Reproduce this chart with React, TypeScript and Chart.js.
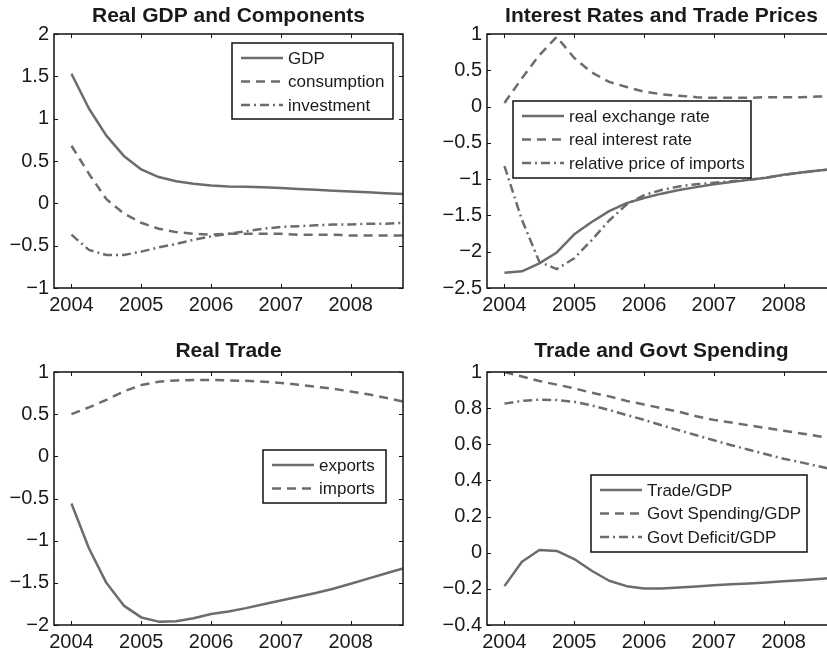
import React, { useEffect, useRef } from 'react';
import { Chart, registerables } from 'chart.js';

Chart.register(...registerables);

// ---------- data ----------
const quarters = [
  2004, 2004.25, 2004.5, 2004.75, 2005, 2005.25, 2005.5, 2005.75, 2006, 2006.25,
  2006.5, 2006.75, 2007, 2007.25, 2007.5, 2007.75, 2008, 2008.25, 2008.5, 2008.75,
];
const yearTicks = [2004, 2005, 2006, 2007, 2008];

// Real GDP and Components
const gdp = [1.53, 1.12, 0.8, 0.56, 0.4, 0.31, 0.26, 0.23, 0.21, 0.2, 0.195, 0.19, 0.18, 0.17, 0.16, 0.15, 0.14, 0.13, 0.12, 0.11];
const consumption = [0.68, 0.35, 0.05, -0.12, -0.23, -0.3, -0.34, -0.36, -0.37, -0.36, -0.36, -0.36, -0.36, -0.37, -0.37, -0.37, -0.38, -0.38, -0.38, -0.38];
const investment = [-0.37, -0.55, -0.61, -0.61, -0.57, -0.52, -0.48, -0.43, -0.39, -0.36, -0.33, -0.3, -0.28, -0.27, -0.26, -0.25, -0.25, -0.24, -0.24, -0.23];
const gdpTicks = [-1, -0.5, 0, 0.5, 1, 1.5, 2];

// Interest Rates and Trade Prices
const exchangeRate = [-2.29, -2.27, -2.16, -2.01, -1.76, -1.59, -1.44, -1.33, -1.26, -1.2, -1.15, -1.11, -1.07, -1.04, -1.01, -0.98, -0.94, -0.91, -0.88, -0.86];
const interestRate = [0.05, 0.39, 0.71, 0.96, 0.67, 0.47, 0.34, 0.27, 0.205, 0.17, 0.15, 0.13, 0.12, 0.12, 0.12, 0.13, 0.13, 0.13, 0.14, 0.14];
const importPrice = [-0.82, -1.56, -2.14, -2.24, -2.09, -1.84, -1.57, -1.35, -1.22, -1.15, -1.1, -1.07, -1.05, -1.03, -1.01, -0.98, -0.94, -0.91, -0.88, -0.86];
const ratesTicks = [-2.5, -2, -1.5, -1, -0.5, 0, 0.5, 1];

// Real Trade
const exportsData = [-0.56, -1.09, -1.5, -1.77, -1.91, -1.96, -1.955, -1.92, -1.87, -1.84, -1.8, -1.755, -1.71, -1.665, -1.62, -1.57, -1.51, -1.45, -1.39, -1.33];
const importsData = [0.5, 0.58, 0.67, 0.77, 0.845, 0.885, 0.9, 0.905, 0.905, 0.9, 0.895, 0.885, 0.87, 0.85, 0.825, 0.8, 0.77, 0.735, 0.695, 0.65];
const tradeTicks = [-2, -1.5, -1, -0.5, 0, 0.5, 1];

// Trade and Govt Spending
const tradeGdp = [-0.185, -0.05, 0.015, 0.01, -0.035, -0.1, -0.155, -0.185, -0.198, -0.198, -0.193, -0.187, -0.18, -0.175, -0.17, -0.165, -0.158, -0.152, -0.145, -0.138];
const govSpending = [1.0, 0.975, 0.95, 0.93, 0.91, 0.885, 0.865, 0.84, 0.82, 0.8, 0.78, 0.755, 0.735, 0.72, 0.705, 0.69, 0.675, 0.66, 0.645, 0.625];
const govDeficit = [0.825, 0.84, 0.847, 0.845, 0.835, 0.815, 0.79, 0.762, 0.735, 0.705, 0.678, 0.65, 0.622, 0.595, 0.57, 0.545, 0.52, 0.5, 0.478, 0.458];
const govTicks = [-0.4, -0.2, 0, 0.2, 0.4, 0.6, 0.8, 1];

// ---------- styles ----------
const LINE_COLOR = '#6c6c6c';
const SOLID: number[] = [];
const DASH = [9, 6];
const DASHDOT = [9, 4, 2, 4];
const FONT = '"Liberation Sans", Arial, Helvetica, sans-serif';

type Series = { label: string; data: number[]; dash: number[] };
type Panel = {
  title: string;
  titleGap: number;
  canvas: { left: number; top: number; width: number; height: number };
  area: { left: number; top: number; right: number; bottom: number };
  yMin: number;
  yMax: number;
  yTicks: number[];
  series: Series[];
  legend: { x: number; y: number; w: number; h: number };
};

const panels: Panel[] = [
  {
    title: 'Real GDP and Components',
    titleGap: 12,
    canvas: { left: 0, top: 0, width: 413, height: 320 },
    area: { left: 54, top: 34, right: 403, bottom: 288 },
    yMin: -1, yMax: 2, yTicks: gdpTicks,
    series: [
      { label: 'GDP', data: gdp, dash: SOLID },
      { label: 'consumption', data: consumption, dash: DASH },
      { label: 'investment', data: investment, dash: DASHDOT },
    ],
    legend: { x: 232, y: 43, w: 161, h: 76 },
  },
  {
    title: 'Interest Rates and Trade Prices',
    titleGap: 12,
    canvas: { left: 413, top: 0, width: 437, height: 320 },
    area: { left: 487, top: 34, right: 836, bottom: 288 },
    yMin: -2.5, yMax: 1, yTicks: ratesTicks,
    series: [
      { label: 'real exchange rate', data: exchangeRate, dash: SOLID },
      { label: 'real interest rate', data: interestRate, dash: DASH },
      { label: 'relative price of imports', data: importPrice, dash: DASHDOT },
    ],
    legend: { x: 513, y: 101, w: 238, h: 77 },
  },
  {
    title: 'Real Trade',
    titleGap: 15,
    canvas: { left: 0, top: 320, width: 413, height: 331 },
    area: { left: 54, top: 372, right: 403, bottom: 625 },
    yMin: -2, yMax: 1, yTicks: tradeTicks,
    series: [
      { label: 'exports', data: exportsData, dash: SOLID },
      { label: 'imports', data: importsData, dash: DASH },
    ],
    legend: { x: 263, y: 450, w: 123, h: 53 },
  },
  {
    title: 'Trade and Govt Spending',
    titleGap: 15,
    canvas: { left: 413, top: 320, width: 437, height: 331 },
    area: { left: 487, top: 372, right: 836, bottom: 625 },
    yMin: -0.4, yMax: 1, yTicks: govTicks,
    series: [
      { label: 'Trade/GDP', data: tradeGdp, dash: SOLID },
      { label: 'Govt Spending/GDP', data: govSpending, dash: DASH },
      { label: 'Govt Deficit/GDP', data: govDeficit, dash: DASHDOT },
    ],
    legend: { x: 591, y: 475, w: 216, h: 77 },
  },
];

const fmt = (v: number) => {
  const s = String(Math.round(v * 100) / 100);
  return v < 0 ? '\u2212' + s.slice(1) : s;
};

function makeChart(canvas: HTMLCanvasElement, p: Panel) {
  const c = p.canvas;
  const a = p.area;
  const yAxisWidth = a.left - c.left;
  const xAxisHeight = c.top + c.height - a.bottom;

  const framePlugin = {
    id: 'frame' + p.title.replace(/\W/g, ''),
    afterDatasetsDraw(chart: any) {
      const ctx = chart.ctx as CanvasRenderingContext2D;
      const area = chart.chartArea;
      const xs = chart.scales.x;
      const ys = chart.scales.y;
      ctx.save();
      // box
      ctx.strokeStyle = '#111';
      ctx.lineWidth = 1.5;
      ctx.setLineDash([]);
      ctx.strokeRect(area.left, area.top, area.right - area.left, area.bottom - area.top);
      // inward ticks
      ctx.lineWidth = 1;
      ctx.beginPath();
      yearTicks.forEach((v) => {
        const px = Math.round(xs.getPixelForValue(v)) + 0.5;
        ctx.moveTo(px, area.bottom);
        ctx.lineTo(px, area.bottom - 4);
        ctx.moveTo(px, area.top);
        ctx.lineTo(px, area.top + 4);
      });
      p.yTicks.forEach((v) => {
        const py = Math.round(ys.getPixelForValue(v)) + 0.5;
        ctx.moveTo(area.left, py);
        ctx.lineTo(area.left + 4, py);
        ctx.moveTo(area.right, py);
        ctx.lineTo(area.right - 4, py);
      });
      ctx.stroke();
      // title
      ctx.fillStyle = '#1a1a1a';
      ctx.font = 'bold 21px ' + FONT;
      ctx.textAlign = 'center';
      ctx.textBaseline = 'alphabetic';
      ctx.fillText(p.title, (area.left + area.right) / 2, area.top - p.titleGap);
      // legend
      const lx = p.legend.x - c.left;
      const ly = p.legend.y - c.top;
      ctx.fillStyle = '#fff';
      ctx.fillRect(lx, ly, p.legend.w, p.legend.h);
      ctx.strokeStyle = '#111';
      ctx.lineWidth = 1.5;
      ctx.strokeRect(lx, ly, p.legend.w, p.legend.h);
      ctx.font = '17px ' + FONT;
      ctx.textAlign = 'left';
      ctx.textBaseline = 'middle';
      p.series.forEach((s, i) => {
        const ry = ly + 15 + i * 23.5;
        ctx.strokeStyle = LINE_COLOR;
        ctx.lineWidth = 2.5;
        ctx.setLineDash(s.dash);
        ctx.beginPath();
        ctx.moveTo(lx + 9, ry);
        ctx.lineTo(lx + 51, ry);
        ctx.stroke();
        ctx.setLineDash([]);
        ctx.fillStyle = '#1a1a1a';
        ctx.fillText(s.label, lx + 56, ry + 1);
      });
      ctx.restore();
    },
  };

  return new Chart(canvas, {
    type: 'line',
    data: {
      datasets: p.series.map((s) => ({
        label: s.label,
        data: quarters.map((q, i) => ({ x: q, y: s.data[i] })),
        borderColor: LINE_COLOR,
        backgroundColor: LINE_COLOR,
        borderWidth: 2.5,
        borderDash: s.dash,
        pointRadius: 0,
        tension: 0,
        fill: false,
        borderJoinStyle: 'round' as const,
      })),
    },
    options: {
      responsive: false,
      animation: false,
      events: [],
      layout: {
        padding: { top: a.top - c.top, right: c.left + c.width - a.right, bottom: 0, left: 0 },
      },
      plugins: {
        legend: { display: false },
        tooltip: { enabled: false },
        title: { display: false },
      },
      scales: {
        x: {
          type: 'linear',
          min: 2003.75,
          max: 2008.75,
          grid: { display: false, drawTicks: false },
          border: { display: false },
          afterBuildTicks: (axis: any) => {
            axis.ticks = yearTicks.map((v) => ({ value: v }));
          },
          afterFit: (axis: any) => {
            axis.height = xAxisHeight;
          },
          ticks: {
            autoSkip: false,
            maxRotation: 0,
            padding: 5,
            color: '#1a1a1a',
            font: { family: FONT, size: 20 },
            callback: (v: any) => String(v),
          },
        },
        y: {
          type: 'linear',
          min: p.yMin,
          max: p.yMax,
          grid: { display: false, drawTicks: false },
          border: { display: false },
          afterBuildTicks: (axis: any) => {
            axis.ticks = p.yTicks.map((v) => ({ value: v }));
          },
          afterFit: (axis: any) => {
            axis.width = yAxisWidth;
          },
          ticks: {
            autoSkip: false,
            padding: 5,
            color: '#1a1a1a',
            font: { family: FONT, size: 20 },
            callback: (v: any) => fmt(Number(v)),
          },
        },
      },
    } as any,
    plugins: [framePlugin],
  });
}

function PanelChart({ panel }: { panel: Panel }) {
  const ref = useRef<HTMLCanvasElement | null>(null);
  useEffect(() => {
    if (!ref.current) return;
    const chart = makeChart(ref.current, panel);
    return () => chart.destroy();
  }, [panel]);
  const c = panel.canvas;
  return (
    <canvas
      ref={ref}
      width={c.width}
      height={c.height}
      style={{ position: 'absolute', left: c.left, top: c.top, width: c.width, height: c.height }}
    />
  );
}

export default function App() {
  return (
    <div
      style={{
        position: 'fixed',
        left: 0,
        top: 0,
        width: 827,
        height: 651,
        overflow: 'hidden',
        background: '#fff',
      }}
    >
      {panels.map((p) => (
        <PanelChart key={p.title} panel={p} />
      ))}
    </div>
  );
}
